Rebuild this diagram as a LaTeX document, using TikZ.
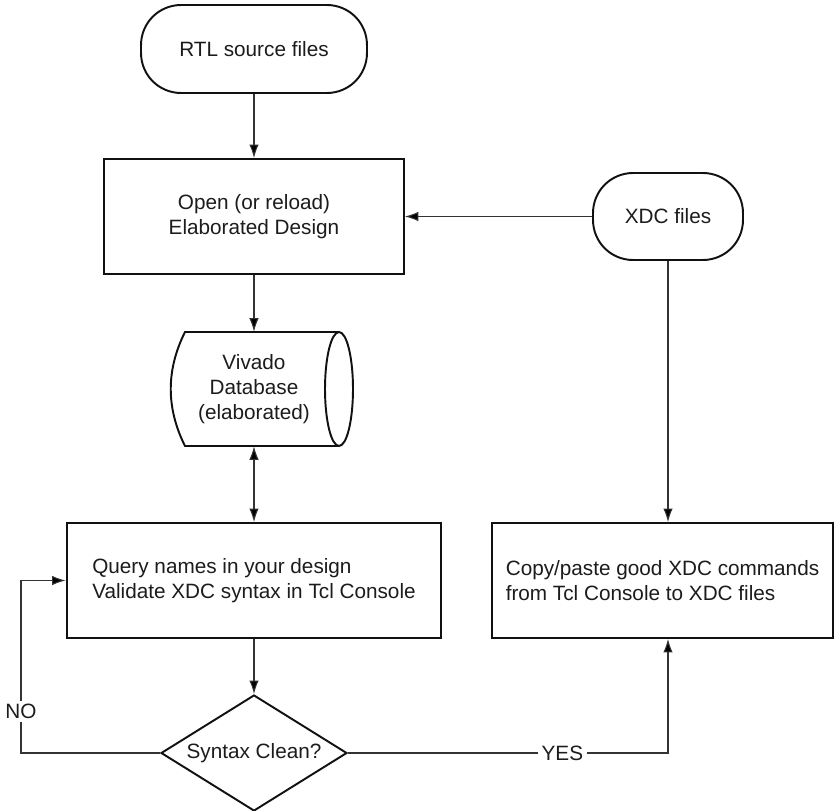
\documentclass[tikz,border=0pt]{standalone}
\usepackage{fontspec}
\setmainfont{Liberation Sans}
\setsansfont{Liberation Sans}
\usepackage{xcolor}
\usetikzlibrary{shapes.geometric,arrows.meta}
\definecolor{Paper}{HTML}{FFFFFF}
\definecolor{Outline}{HTML}{111111}
\definecolor{Wire}{HTML}{333333}
\definecolor{Label}{HTML}{1C1C1C}

\begin{document}
\begin{tikzpicture}[x=0.02cm,y=-0.02cm,font=\sffamily\fontsize{11.8}{14.4}\selectfont,terminal/.style={draw=Outline,line width=1.1pt,rounded corners=0.8cm,text=Label,align=center},process/.style={draw=Outline,line width=1.1pt,text=Label,align=left,minimum height=2.3cm},decision/.style={diamond,draw=Outline,line width=1.1pt,text=Label,shape aspect=1.6,inner sep=0pt,minimum width=3.72cm,minimum height=2.32cm},wire/.style={draw=Wire,line width=0.6pt,>={Latex[length=0.27cm,width=0.19cm,fill=black]},->},tag/.style={fill=Paper,text=Label,inner sep=2pt}]
\useasboundingbox (0,0) rectangle (836,811);
\fill[Paper] (0,0) rectangle (836,811);
\node[terminal,minimum width=4.52cm,minimum height=1.76cm] (rtl) at (254,49) {RTL source files};
\node[process,minimum width=6cm,align=center] (open) at (254,216.5) {Open (or reload)\\Elaborated Design};
\node[terminal,minimum width=3cm,minimum height=1.74cm] (xdc) at (668,216.5) {XDC files};
\node[align=center,minimum height=2.28cm,text=Label] (db) at (254,389) {Vivado\\Database\\(elaborated)};
\draw[draw=Outline,line width=1.1pt] (339,332) -- (185,332) .. controls (166,370) and (166,408) .. (185,446) -- (339,446);
\draw[draw=Outline,line width=1.1pt] (339,389) ellipse [x radius=0.28cm,y radius=1.14cm];
\node[process,minimum width=7.5cm] (query) at (254,580.5) {Query names in your design\\Validate XDC syntax in Tcl Console};
\node[process,minimum width=6.82cm] (copy) at (662.5,580.5) {Copy/paste good XDC commands\\from Tcl Console to XDC files};
\node[decision] (check) at (254,753) {Syntax Clean?};
\coordinate (noturn) at (21,753);
\coordinate (yesturn) at (668,753);
\draw[wire] (rtl) -- (open);
\draw[wire] (xdc) -- (open);
\draw[wire] (open) -- (db);
\draw[wire,<->] (db) -- (query);
\draw[wire] (query) -- (check);
\draw[wire] (xdc) -- (xdc |- copy.north);
\draw[wire] (check.west) -- (noturn) |- node[tag,pos=0.12] {NO} (query.west);
\draw[wire] (check.east) -- node[tag,pos=0.67] {YES} (yesturn) -- (yesturn |- copy.south);
\end{tikzpicture}
\end{document}
